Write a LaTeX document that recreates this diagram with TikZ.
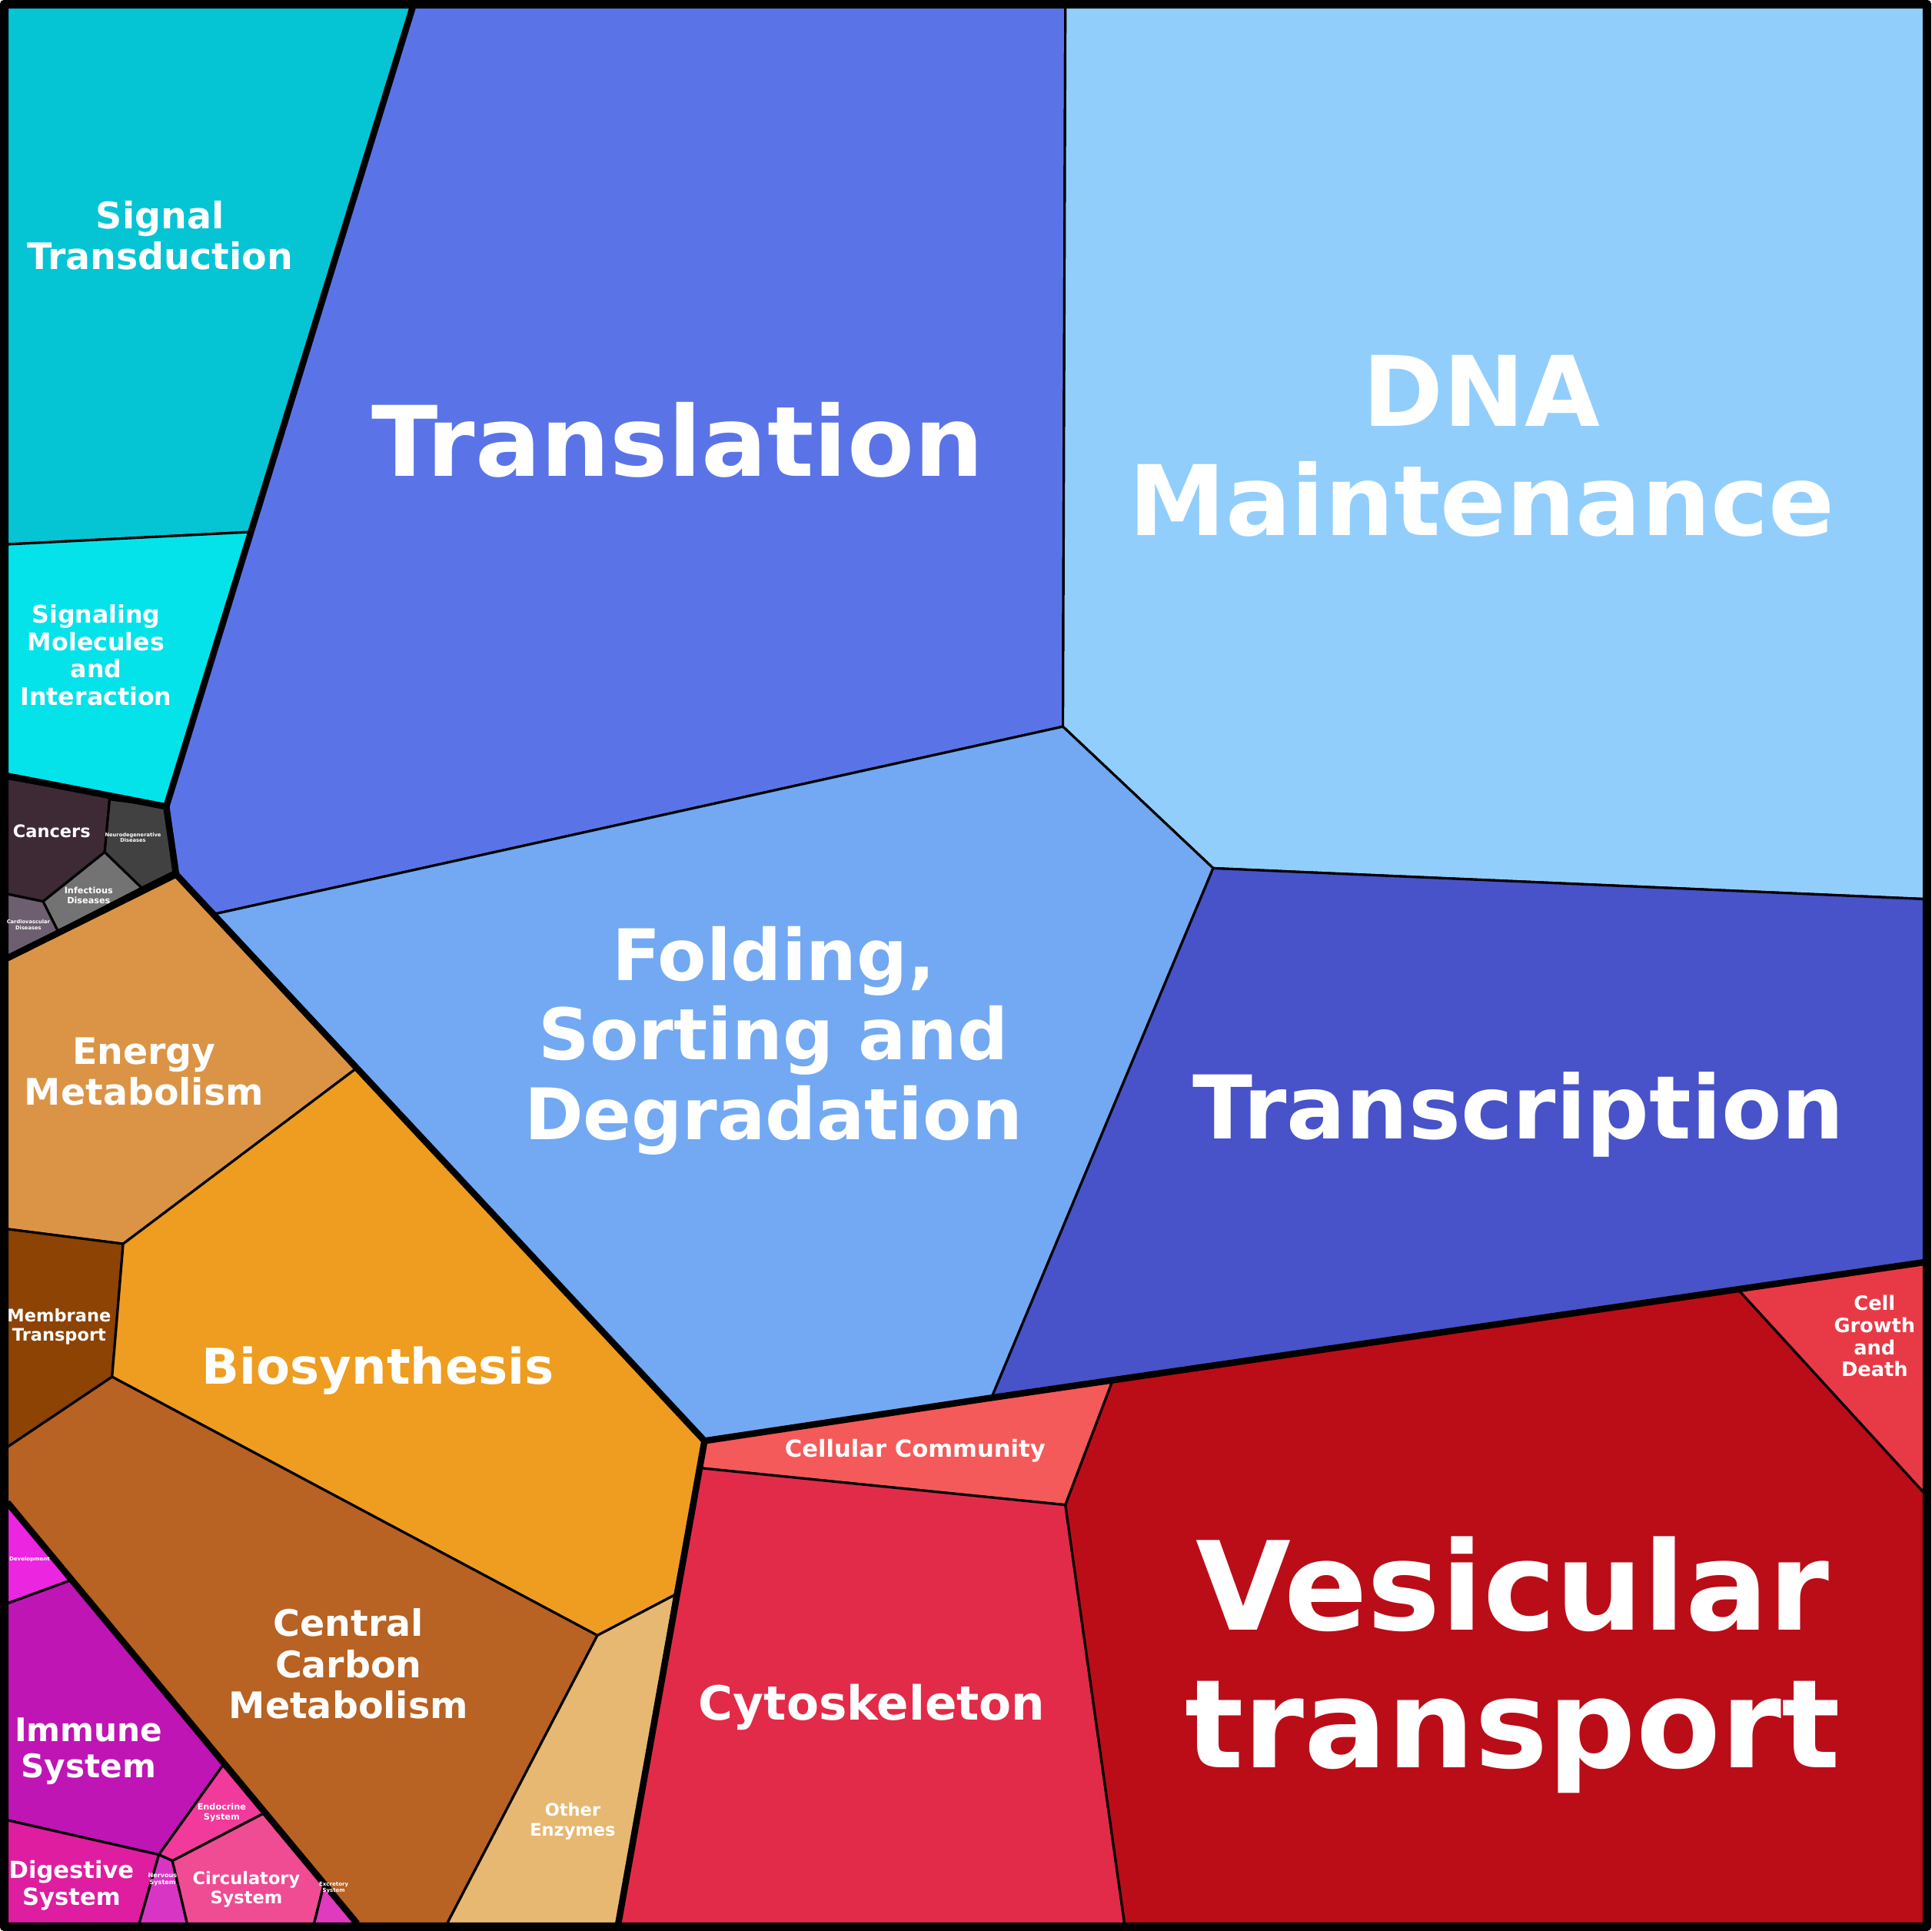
\documentclass[tikz,border=0pt]{standalone}
\usepackage{fontspec}
\setmainfont{DejaVu Sans}
\begin{document}
\begin{tikzpicture}[x=0.016cm,y=-0.016cm,line join=round,
  cell/.style={draw=black,line width=0.9pt},
  grp/.style={draw=black,line width=2.4pt},
  lab/.style={text=white,align=center,inner sep=0pt,font=\bfseries}]
\useasboundingbox (0,0) rectangle (1568,1568);
\def\fs#1{\fontsize{#1pt}{1.12\dimexpr#1pt\relax}\selectfont}
% top cells
\filldraw[cell,fill={rgb,255:red,5;green,196;blue,212}] (6,6)--(335,6)--(203,432)--(6,442)--cycle;
\filldraw[cell,fill={rgb,255:red,4;green,227;blue,234}] (6,442)--(203,432)--(135,655)--(6,630)--cycle;
\filldraw[cell,fill={rgb,255:red,90;green,116;blue,232}] (335,6)--(865,6)--(863,590)--(175,742)--(143,710)--(135,655)--cycle;
\filldraw[cell,fill={rgb,255:red,146;green,206;blue,252}] (865,6)--(1562,6)--(1562,730)--(985,705)--(863,590)--cycle;
\filldraw[cell,fill={rgb,255:red,114;green,169;blue,242}] (863,590)--(985,705)--(805,1135)--(572,1170)--(175,742)--cycle;
\filldraw[cell,fill={rgb,255:red,72;green,82;blue,201}] (985,705)--(1562,730)--(1562,1025)--(805,1135)--cycle;
% cellular
\filldraw[cell,fill={rgb,255:red,244;green,90;blue,90}] (572,1170)--(805,1135)--(903,1122)--(865,1222)--(568,1192)--cycle;
\filldraw[cell,fill={rgb,255:red,226;green,43;blue,73}] (568,1192)--(865,1222)--(913,1562)--(502,1562)--cycle;
\filldraw[cell,fill={rgb,255:red,186;green,13;blue,24}] (903,1122)--(1412,1048)--(1562,1212)--(1562,1562)--(913,1562)--(865,1222)--cycle;
\filldraw[cell,fill={rgb,255:red,232;green,58;blue,70}] (1412,1048)--(1562,1025)--(1562,1212)--cycle;
% diseases
\filldraw[cell,fill={rgb,255:red,61;green,42;blue,53}] (6,632)--(86,646)--(89,649)--(85,692)--(35,732)--(6,726)--cycle;
\filldraw[cell,fill={rgb,255:red,65;green,65;blue,65}] (89,649)--(135,655)--(141,708)--(115,721)--(85,692)--cycle;
\filldraw[cell,fill={rgb,255:red,115;green,115;blue,115}] (85,692)--(115,721)--(47,756)--(35,732)--cycle;
\filldraw[cell,fill={rgb,255:red,109;green,95;blue,112}] (6,726)--(35,732)--(47,756)--(6,778)--cycle;
% metabolism
\filldraw[cell,fill={rgb,255:red,219;green,148;blue,69}] (6,778)--(143,710)--(290,867)--(100,1010)--(6,998)--cycle;
\filldraw[cell,fill={rgb,255:red,140;green,67;blue,4}] (6,998)--(100,1010)--(91,1118)--(6,1175)--cycle;
\filldraw[cell,fill={rgb,255:red,238;green,157;blue,32}] (100,1010)--(290,867)--(572,1170)--(548,1295)--(485,1328)--(91,1118)--cycle;
\filldraw[cell,fill={rgb,255:red,184;green,98;blue,35}] (91,1118)--(485,1328)--(363,1562)--(290,1562)--(6,1220)--(6,1175)--cycle;
\filldraw[cell,fill={rgb,255:red,230;green,184;blue,114}] (485,1328)--(548,1295)--(502,1562)--(363,1562)--cycle;
% organismal
\filldraw[cell,fill={rgb,255:red,236;green,37;blue,224}] (6,1220)--(58,1283)--(6,1302)--cycle;
\filldraw[cell,fill={rgb,255:red,190;green,21;blue,180}] (6,1302)--(58,1283)--(182,1432)--(129,1506)--(6,1478)--cycle;
\filldraw[cell,fill={rgb,255:red,242;green,58;blue,156}] (182,1432)--(215,1472)--(140,1511)--(129,1506)--cycle;
\filldraw[cell,fill={rgb,255:red,222;green,29;blue,160}] (6,1478)--(129,1506)--(113,1562)--(6,1562)--cycle;
\filldraw[cell,fill={rgb,255:red,217;green,53;blue,196}] (129,1506)--(140,1511)--(152,1562)--(113,1562)--cycle;
\filldraw[cell,fill={rgb,255:red,239;green,76;blue,147}] (140,1511)--(215,1472)--(263,1530)--(255,1562)--(152,1562)--cycle;
\filldraw[cell,fill={rgb,255:red,224;green,58;blue,190}] (263,1530)--(290,1562)--(255,1562)--cycle;
% group borders
\draw[grp] (335,6)--(135,655)--(6,630);
\draw[grp] (135,655)--(143,710)--(6,778);
\draw[grp] (143,710)--(572,1170)--(502,1562);
\draw[grp] (6,1220)--(290,1562);
\draw[grp] (572,1170)--(805,1135)--(1562,1025);
\draw[black,line width=2.8pt] (3,3) rectangle (1565,1565);
% labels
\node[lab,font=\bfseries\fs{36}] (dna) at (1203,362) {DNA\\Maintenance};
\node[lab,font=\bfseries\fs{36}] (tl) at (550,357) {Translation};
\node[lab,font=\bfseries\fs{32.5}] (tc) at (1233,905) {Transcription};
\node[lab,font=\bfseries\fs{45.5}] (ves) at (1228,1352) {Vesicular\\transport};
\node[lab,font=\bfseries\fs{26.3}] (fold) at (628,845) {Folding,\\Sorting and\\Degradation};
\node[lab,font=\bfseries\fs{13.5}] (st) at (130,191) {Signal\\Transduction};
\node[lab,font=\bfseries\fs{9}] (smi) at (78,532) {Signaling\\Molecules\\and\\Interaction};
\node[lab,font=\bfseries\fs{13.5}] (en) at (117,870) {Energy\\Metabolism};
\node[lab,font=\bfseries\fs{18.2}] (bio) at (307,1113) {Biosynthesis};
\node[lab,font=\bfseries\fs{13.5}] (ccm) at (283,1351) {Central\\Carbon\\Metabolism};
\node[lab,font=\bfseries\fs{6.4}] (mt) at (48,1077) {Membrane\\Transport};
\node[lab,font=\bfseries\fs{6.4}] (oe) at (465,1479) {Other\\Enzymes};
\node[lab,font=\bfseries\fs{17.4}] (cyto) at (708,1386) {Cytoskeleton};
\node[lab,font=\bfseries\fs{8.7}] (cc) at (743,1178) {Cellular Community};
\node[lab,font=\bfseries\fs{7.3}] (cg) at (1522,1085) {Cell\\Growth\\and\\Death};
\node[lab,font=\bfseries\fs{6.4}] (can) at (42,675) {Cancers};
\node[lab,font=\bfseries\fs{1.9}] (neu) at (108,680) {Neurodegenerative\\Diseases};
\node[lab,font=\bfseries\fs{3.2}] (inf) at (72,727) {Infectious\\Diseases};
\node[lab,font=\bfseries\fs{1.9}] (car) at (23,751) {Cardiovascular\\Diseases};
\node[lab,font=\bfseries\fs{12}] (imm) at (72,1422) {Immune\\System};
\node[lab,font=\bfseries\fs{8.7}] (dig) at (58,1531) {Digestive\\System};
\node[lab,font=\bfseries\fs{6.4}] (cir) at (200,1534) {Circulatory\\System};
\node[lab,font=\bfseries\fs{3.2}] (endo) at (180,1472) {Endocrine\\System};
\node[lab,font=\bfseries\fs{2.3}] (nerv) at (132,1526) {Nervous\\System};
\node[lab,font=\bfseries\fs{2}] (exc) at (271,1533) {Excretory\\System};
\node[lab,font=\bfseries\fs{2}] (dev) at (24,1266) {Development};
\end{tikzpicture}
\end{document}
